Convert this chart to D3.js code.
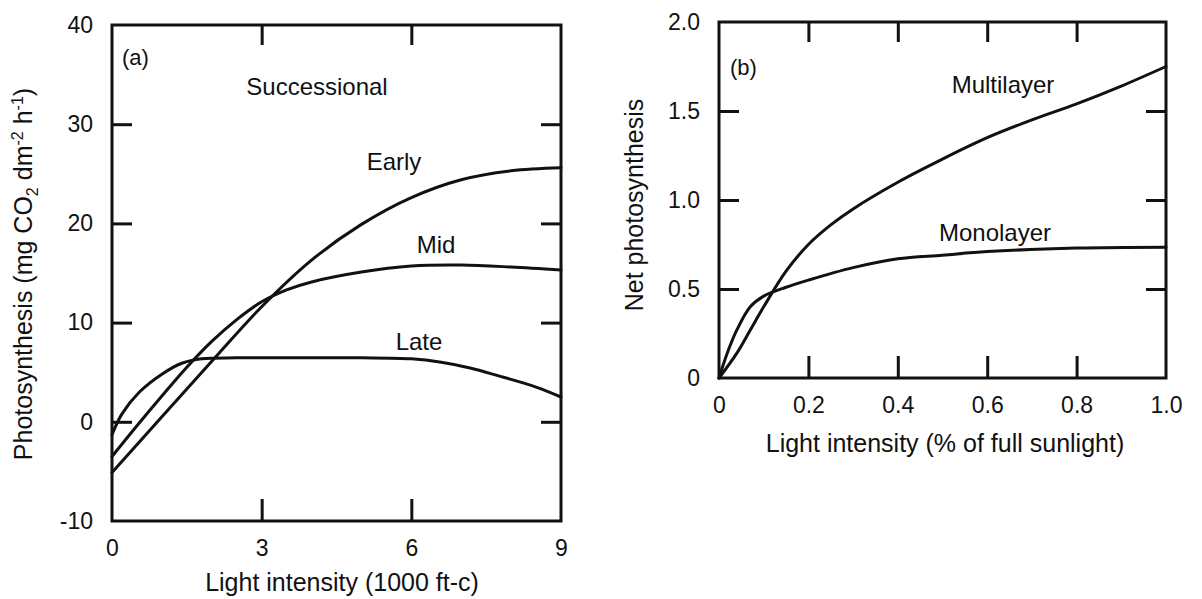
<!DOCTYPE html>
<html><head><meta charset="utf-8">
<script src="https://cdn.jsdelivr.net/npm/d3@7"></script>
<style>
body{margin:0;background:#fff}
text{font-family:"Liberation Sans",Arial,Helvetica,sans-serif;fill:#111}
</style>
</head><body>
<svg id="c" width="1202" height="599"></svg>
<script>
// ---------- Panel (a) data ----------
const aXTicks = [0, 3, 6, 9];
const aYTicks = [-10, 0, 10, 20, 30, 40];
const earlyX = [0, 1, 2, 3, 4, 5, 6, 7, 8, 9];
const earlyY = [-5.1, 0.5, 6.1, 11.6, 16.3, 19.9, 22.6, 24.4, 25.3, 25.6];
const midX = [0, 0.5, 1, 1.5, 2, 2.5, 3, 3.5, 4, 5, 6, 7, 8, 9];
const midY = [-3.5, -0.4, 2.6, 5.5, 8.1, 10.3, 12.1, 13.3, 14.1, 15.1, 15.7, 15.8, 15.6, 15.3];
const lateX = [0, 0.2, 0.55, 1.0, 1.4, 1.8, 2.5, 4, 5, 6, 6.6, 7.2, 7.7, 8.5, 9];
const lateY = [-1.3, 0.8, 3.0, 4.8, 5.9, 6.35, 6.45, 6.45, 6.45, 6.35, 6.0, 5.4, 4.7, 3.5, 2.5];

// ---------- Panel (b) data ----------
const bXTicks = [0, 0.2, 0.4, 0.6, 0.8, 1.0];
const bXLabels = ["0", "0.2", "0.4", "0.6", "0.8", "1.0"];
const bYTicks = [0, 0.5, 1.0, 1.5, 2.0];
const bYLabels = ["0", "0.5", "1.0", "1.5", "2.0"];
const multiX = [0, 0.04, 0.07, 0.1, 0.15, 0.2, 0.25, 0.3, 0.4, 0.5, 0.6, 0.7, 0.8, 0.9, 1.0];
const multiY = [0, 0.14, 0.27, 0.40, 0.60, 0.75, 0.86, 0.95, 1.10, 1.23, 1.35, 1.45, 1.54, 1.64, 1.75];
const monoX = [0, 0.02, 0.04, 0.07, 0.1, 0.15, 0.2, 0.3, 0.4, 0.5, 0.6, 0.8, 1.0];
const monoY = [0, 0.15, 0.27, 0.40, 0.46, 0.51, 0.55, 0.62, 0.67, 0.69, 0.71, 0.73, 0.735];

const svg = d3.select("#c");
const INK = "#111";

function drawPanel(cfg) {
  const x = d3.scaleLinear().domain(cfg.xDom).range(cfg.xR);
  const y = d3.scaleLinear().domain(cfg.yDom).range(cfg.yR);
  const g = svg.append("g");
  const inner = (arr, dom) => arr.filter(v => v > dom[0] && v < dom[1]);

  const style = sel => {
    sel.select(".domain").remove();
    sel.selectAll(".tick line").attr("stroke", INK).attr("stroke-width", 3);
    sel.selectAll(".tick text").style("font-size", "23px").attr("fill", INK);
  };
  // bottom (labels)
  g.append("g").attr("transform", `translate(0,${cfg.yR[0]})`)
    .call(d3.axisBottom(x).tickValues(cfg.xTicks).tickFormat((d, i) => cfg.xLab[i])
      .tickSizeInner(-22).tickSizeOuter(0).tickPadding(19))
    .call(style)
    .selectAll(".tick").filter(d => d === cfg.xDom[0] || d === cfg.xDom[1]).select("line").remove();
  // left (labels)
  g.append("g").attr("transform", `translate(${cfg.xR[0]},0)`)
    .call(d3.axisLeft(y).tickValues(cfg.yTicks).tickFormat((d, i) => cfg.yLab[i])
      .tickSizeInner(-20).tickSizeOuter(0).tickPadding(19))
    .call(style)
    .selectAll(".tick").filter(d => d === cfg.yDom[0] || d === cfg.yDom[1]).select("line").remove();
  // top
  g.append("g").attr("transform", `translate(0,${cfg.yR[1]})`)
    .call(d3.axisTop(x).tickValues(inner(cfg.xTicks, cfg.xDom)).tickFormat("")
      .tickSizeInner(-20).tickSizeOuter(0))
    .call(style);
  // right
  g.append("g").attr("transform", `translate(${cfg.xR[1]},0)`)
    .call(d3.axisRight(y).tickValues(inner(cfg.yTicks, cfg.yDom)).tickFormat("")
      .tickSizeInner(-20).tickSizeOuter(0))
    .call(style);

  // frame
  g.append("rect")
    .attr("x", cfg.xR[0]).attr("y", cfg.yR[1])
    .attr("width", cfg.xR[1] - cfg.xR[0]).attr("height", cfg.yR[0] - cfg.yR[1])
    .attr("fill", "none").attr("stroke", INK).attr("stroke-width", 3);

  // curves
  const line = d3.line().x(d => x(d[0])).y(d => y(d[1])).curve(d3.curveCatmullRom.alpha(0.5));
  cfg.series.forEach(s => {
    g.append("path").datum(s.xs.map((v, i) => [v, s.ys[i]]))
      .attr("d", line).attr("fill", "none").attr("stroke", INK)
      .attr("stroke-width", 3).attr("stroke-linejoin", "round").attr("stroke-linecap", "round");
  });
  return {x, y, g};
}

drawPanel({
  xDom: [0, 9], xR: [112, 561], yDom: [-10, 40], yR: [521, 25],
  xTicks: aXTicks, xLab: aXTicks.map(String),
  yTicks: aYTicks, yLab: aYTicks.map(String),
  series: [
    {xs: earlyX, ys: earlyY},
    {xs: midX, ys: midY},
    {xs: lateX, ys: lateY}
  ]
});

drawPanel({
  xDom: [0, 1], xR: [719, 1166], yDom: [0, 2], yR: [378, 22],
  xTicks: bXTicks, xLab: bXLabels,
  yTicks: bYTicks, yLab: bYLabels,
  series: [
    {xs: multiX, ys: multiY},
    {xs: monoX, ys: monoY}
  ]
});

// ---------- text ----------
function label(txt, x, y, size, anchor) {
  svg.append("text").attr("x", x).attr("y", y).attr("text-anchor", anchor || "middle")
    .style("font-size", size + "px").text(txt);
}
label("(a)", 122, 65, 22, "start");
label("(b)", 730, 75, 22, "start");
label("Successional", 317, 95, 24);
label("Early", 394, 170, 24);
label("Mid", 436, 253, 24);
label("Late", 419, 350, 24);
label("Multilayer", 1003, 93, 24);
label("Monolayer", 995, 241, 24);

label("Light intensity (1000 ft-c)", 342, 591, 25);
label("Light intensity (% of full sunlight)", 945, 452, 25);

// y title (a) with sub/superscripts
const yt = svg.append("text").attr("transform", "translate(32,274) rotate(-90)")
  .attr("text-anchor", "middle").style("font-size", "25px");
yt.append("tspan").text("Photosynthesis (mg CO");
yt.append("tspan").attr("dy", 6).style("font-size", "16px").text("2");
yt.append("tspan").attr("dy", -6).text(" dm");
yt.append("tspan").attr("dy", -9).style("font-size", "16px").text("-2");
yt.append("tspan").attr("dy", 9).text(" h");
yt.append("tspan").attr("dy", -9).style("font-size", "16px").text("-1");
yt.append("tspan").attr("dy", 9).text(")");

svg.append("text").attr("transform", "translate(643,205) rotate(-90)")
  .attr("text-anchor", "middle").style("font-size", "25px").text("Net photosynthesis");
</script>
</body></html>
